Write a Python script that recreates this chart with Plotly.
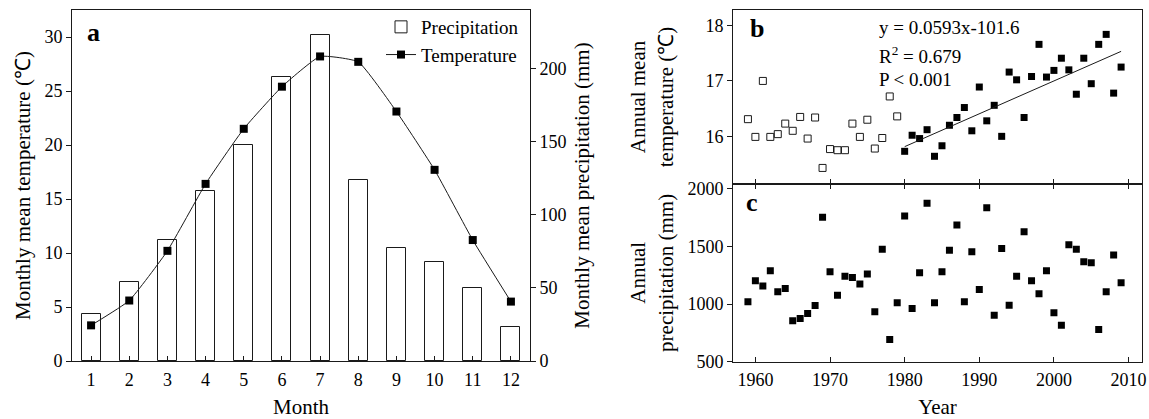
import plotly.graph_objects as go

# ---------------- data ----------------
months = list(range(1, 13))
month_precip = [32, 54, 83, 116, 148, 194, 223, 124, 77, 68, 50, 23]
month_temp = [3.3, 5.6, 10.2, 16.4, 21.5, 25.4, 28.2, 27.7, 23.1, 17.7, 11.2, 5.5]

years = list(range(1959, 2010))
annual_temp = [16.31, 15.99, 17.00, 15.99, 16.04, 16.23, 16.10, 16.35, 15.96, 16.34,
               15.43, 15.77, 15.75, 15.75, 16.23, 15.99, 16.30, 15.78, 15.97, 16.72,
               16.36, 15.73, 16.02, 15.96, 16.12, 15.64, 15.83, 16.20, 16.34, 16.52,
               16.10, 16.89, 16.28, 16.56, 16.00, 17.16, 17.02, 16.34, 17.08, 17.66,
               17.07, 17.19, 17.41, 17.20, 16.76, 17.41, 16.95, 17.66, 17.84, 16.78,
               17.25]
annual_precip = [1020, 1203, 1157, 1290, 1107, 1136, 855, 876, 919, 988,
                 1754, 1281, 1078, 1243, 1232, 1174, 1261, 933, 1476, 693,
                 1011, 1765, 963, 1272, 1876, 1011, 1281, 1467, 1687, 1020,
                 1455, 1128, 1837, 904, 1484, 991, 1243, 1629, 1203, 1090,
                 1290, 924, 817, 1516, 1476, 1368, 1359, 780, 1107, 1426,
                 1185]
split_year = 1980
trend_slope = 0.0593
trend_intercept = -101.6
trend_years = [1980, 2009]

FONT = "Liberation Serif"
INK = "#1a1a1a"

early_x = [y for y in years if y < split_year]
early_t = [t for y, t in zip(years, annual_temp) if y < split_year]
late_x = [y for y in years if y >= split_year]
late_t = [t for y, t in zip(years, annual_temp) if y >= split_year]
trend_t = [trend_slope * y + trend_intercept for y in trend_years]

fig = go.Figure()

# Panel a
fig.add_trace(go.Bar(x=months, y=month_precip, name="Precipitation", width=0.5,
                     marker=dict(color="white", line=dict(color=INK, width=1)),
                     xaxis="x", yaxis="y"))
fig.add_trace(go.Scatter(x=months, y=month_temp, name="Temperature", mode="lines+markers",
                         line=dict(color=INK, width=1, shape="spline", smoothing=0.4),
                         marker=dict(symbol="square", size=8, color="black"),
                         xaxis="x", yaxis="y2"))

# Panel b
fig.add_trace(go.Scatter(x=early_x, y=early_t, mode="markers", showlegend=False,
                         marker=dict(symbol="square-open", size=7, color=INK, line=dict(width=1)),
                         xaxis="x3", yaxis="y3"))
fig.add_trace(go.Scatter(x=late_x, y=late_t, mode="markers", showlegend=False,
                         marker=dict(symbol="square", size=7, color="black"),
                         xaxis="x3", yaxis="y3"))
fig.add_trace(go.Scatter(x=trend_years, y=trend_t, mode="lines", showlegend=False,
                         line=dict(color=INK, width=1),
                         xaxis="x3", yaxis="y3"))

# Panel c
fig.add_trace(go.Scatter(x=years, y=annual_precip, mode="markers", showlegend=False,
                         marker=dict(symbol="square", size=7, color="black"),
                         xaxis="x4", yaxis="y4"))

W, H = 1149, 419
def px_x(p):
    return p / W
def px_y(p):
    return 1 - p / H

tickfont = dict(family=FONT, size=18, color="black")
titlefont = dict(family=FONT, size=21, color="black")
axis_common = dict(showline=True, linecolor=INK, linewidth=1, showgrid=False,
                   zeroline=False, tickcolor=INK, tickfont=tickfont, ticklen=5,
                   automargin=False)

a_dom_x = [px_x(72), px_x(530)]
a_dom_y = [px_y(361), px_y(10)]
r_dom_x = [px_x(733), px_x(1142)]
b_dom_y = [px_y(184), px_y(10)]
c_dom_y = [px_y(361.7), px_y(184)]

fig.update_layout(
    width=W, height=H,
    margin=dict(l=0, r=0, t=0, b=0),
    paper_bgcolor="white", plot_bgcolor="white",
    font=dict(family=FONT, color="black"),
    bargap=0,
    xaxis=dict(axis_common, domain=a_dom_x, anchor="y", range=[0.5, 12.5],
               tickvals=months, ticks="inside", mirror=True, ticklabelstandoff=2,
               title=dict(text="Month", font=titlefont, standoff=12)),
    yaxis=dict(axis_common, domain=a_dom_y, anchor="x", side="right", range=[0, 240],
               tickvals=[0, 50, 100, 150, 200], ticks="outside",
               title=dict(text="Monthly mean precipitation (mm)", font=titlefont, standoff=8)),
    yaxis2=dict(axis_common, overlaying="y", anchor="x", side="left", range=[0, 32.5],
                tickvals=[0, 5, 10, 15, 20, 25, 30], ticks="outside",
                title=dict(text="Monthly mean temperature (℃)", font=titlefont, standoff=8)),
    xaxis3=dict(axis_common, domain=r_dom_x, anchor="y3", range=[1957, 2011.8],
                tickvals=[1960, 1970, 1980, 1990, 2000, 2010], ticks="inside",
                showticklabels=False, mirror=True),
    yaxis3=dict(axis_common, domain=b_dom_y, anchor="x3", range=[15.14, 18.28],
                tickvals=[16, 17, 18], ticks="outside", mirror=True,
                title=dict(text="Annual mean<br>temperature (℃)", font=titlefont, standoff=26)),
    xaxis4=dict(axis_common, domain=r_dom_x, anchor="y4", range=[1957, 2011.8],
                tickvals=[1960, 1970, 1980, 1990, 2000, 2010], ticks="inside",
                mirror="ticks", ticklabelstandoff=2,
                title=dict(text="Year", font=titlefont, standoff=12)),
    yaxis4=dict(axis_common, domain=c_dom_y, anchor="x4", range=[500, 2043],
                tickvals=[500, 1000, 1500, 2000], ticks="outside", mirror=True,
                title=dict(text="Annual<br>precipitation (mm)", font=titlefont, standoff=8)),
    legend=dict(x=px_x(524), xanchor="right", y=px_y(8), yanchor="top",
                bgcolor="rgba(0,0,0,0)", font=dict(family=FONT, size=19, color="black"),
                itemwidth=30, tracegroupgap=0),
    showlegend=True,
)

annots = [
    dict(text="<b>a</b>", x=px_x(93), y=px_y(32), size=26),
    dict(text="<b>b</b>", x=px_x(757), y=px_y(29), size=26),
    dict(text="<b>c</b>", x=px_x(752), y=px_y(202), size=26),
]
for a in annots:
    fig.add_annotation(text=a["text"], x=a["x"], y=a["y"], xref="paper", yref="paper",
                       xanchor="center", yanchor="middle", showarrow=False,
                       font=dict(family=FONT, size=a["size"], color="black"))

eq_lines = [("y = 0.0593x-101.6", 27), ("R<sup>2</sup> = 0.679", 55), ("P < 0.001", 80)]
for txt, yy in eq_lines:
    fig.add_annotation(text=txt, x=px_x(877), y=px_y(yy), xref="paper", yref="paper",
                       xanchor="left", yanchor="middle", showarrow=False,
                       font=dict(family=FONT, size=19, color="black"))

fig.write_html("out.html", config={"displayModeBar": False},
               post_script="document.body.style.margin='0';")
